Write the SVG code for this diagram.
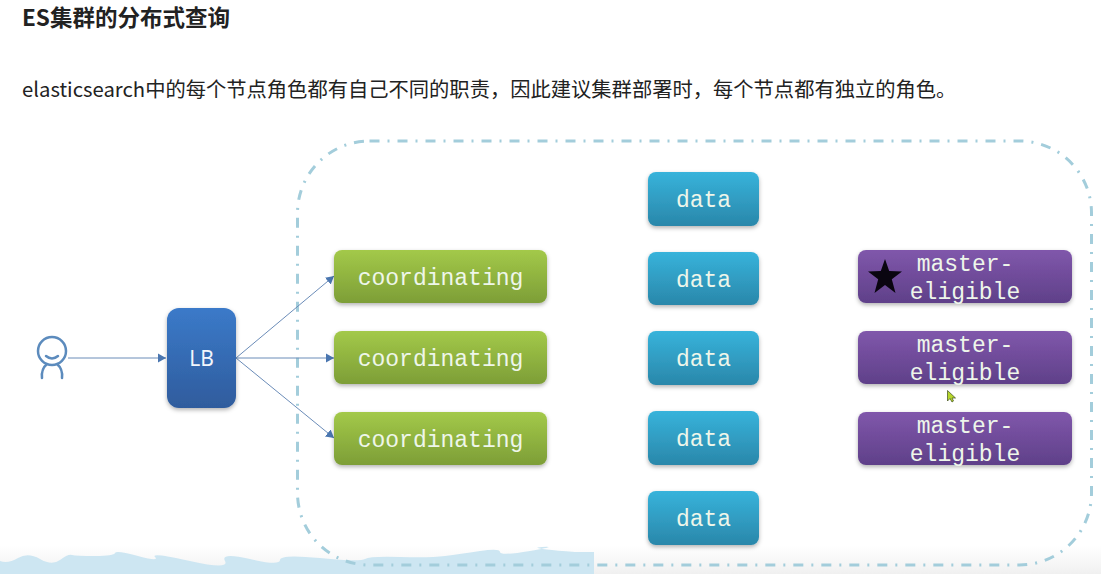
<svg xmlns="http://www.w3.org/2000/svg" width="1101" height="574" viewBox="0 0 1101 574">
<style>
.t{font-family:"Noto Sans CJK SC","Noto Sans",sans-serif;fill:#222}
.m{font-family:"Liberation Mono",monospace;font-size:23px;fill:#eef6ea;text-anchor:middle}
.c{stroke:#6b8cb8;stroke-width:1;fill:none;marker-end:url(#a)}
.n{filter:url(#s)}
</style>
<defs>
<marker id="a" markerUnits="userSpaceOnUse" markerWidth="10" markerHeight="10" refX="8" refY="5" orient="auto"><path d="M0 0.500L8 5L0 9.500z" fill="#4a76b0"/></marker>
<filter id="s" x="-10%" y="-15%" width="120%" height="140%"><feDropShadow dx="0" dy="2" stdDeviation="2" flood-color="#000" flood-opacity=".3"/></filter>
<linearGradient id="g" x1="0" y1="0" x2="0" y2="1"><stop offset="0" stop-color="#a3c949"/><stop offset="1" stop-color="#7d9e37"/></linearGradient>
<linearGradient id="b" x1="0" y1="0" x2="0" y2="1"><stop offset="0" stop-color="#3b7ac9"/><stop offset="1" stop-color="#2f5c9d"/></linearGradient>
<linearGradient id="d" x1="0" y1="0" x2="0" y2="1"><stop offset="0" stop-color="#37b3db"/><stop offset="1" stop-color="#2a87aa"/></linearGradient>
<linearGradient id="p" x1="0" y1="0" x2="0" y2="1"><stop offset="0" stop-color="#8057ab"/><stop offset="1" stop-color="#5f4089"/></linearGradient>
<linearGradient id="f" x1="0" y1="0" x2="0" y2="1"><stop offset="0" stop-color="#f2f2f2" stop-opacity="0"/><stop offset="1" stop-color="#f0f0f0"/></linearGradient>
</defs>
<rect width="1101" height="574" fill="#fff"/>
<rect y="545" width="1101" height="29" fill="url(#f)"/>
<path d="M0 561Q8 564 18 558T40 559T60 560T72 555T95 556T115 553T138 556T155 557T190 561T225 561T250 559T280 560T320 558T365 559T400 557T445 556T480 551T500 552T530 551T542 547T575 552L594 552V574H0Z" fill="#cde6f2"/>
<rect x="297.500" y="141" width="794" height="424" rx="72" ry="72" fill="none" stroke="#a3cddb" stroke-width="3" stroke-dasharray="10 8 2 8"/>
<text class="t" x="22" y="26" font-size="22.500" font-weight="700">ES集群的分布式查询</text>
<text class="t" x="22" y="97" font-size="20.300">elasticsearch中的每个节点角色都有自己不同的职责，因此建议集群部署时，每个节点都有独立的角色。</text>
<g id="connectors">
<line class="c" x1="68" y1="358" x2="166" y2="358"/>
<line class="c" x1="236" y1="358" x2="334" y2="276"/>
<line class="c" x1="236" y1="358" x2="334" y2="358"/>
<line class="c" x1="236" y1="358" x2="334" y2="438"/>
</g>
<g id="user" fill="none" stroke="#5c8bbd" stroke-width="2.500" stroke-linecap="round">
<circle cx="52" cy="351" r="14"/>
<path d="M46 356Q52 361 58 356M47 364Q41 369 42 378M57 364Q63 369 62 378"/>
</g>
<g id="lb"><rect class="n" x="167" y="308" width="69" height="100" rx="12" fill="url(#b)"/><text x="201.500" y="366" font-family="Noto Sans,sans-serif" font-size="21" fill="#f2f6fc" text-anchor="middle">LB</text></g>
<g id="coord1"><rect class="n" x="334" y="250" width="213" height="53" rx="8" fill="url(#g)"/><text class="m" x="440.500" y="285">coordinating</text></g>
<g id="coord2"><rect class="n" x="334" y="331" width="213" height="53" rx="8" fill="url(#g)"/><text class="m" x="440.500" y="366">coordinating</text></g>
<g id="coord3"><rect class="n" x="334" y="412" width="213" height="53" rx="8" fill="url(#g)"/><text class="m" x="440.500" y="447">coordinating</text></g>
<g id="data1"><rect class="n" x="648" y="172" width="111" height="54" rx="8" fill="url(#d)"/><text class="m" x="703.500" y="207">data</text></g>
<g id="data2"><rect class="n" x="648" y="252" width="111" height="53" rx="8" fill="url(#d)"/><text class="m" x="703.500" y="287">data</text></g>
<g id="data3"><rect class="n" x="648" y="331" width="111" height="54" rx="8" fill="url(#d)"/><text class="m" x="703.500" y="366">data</text></g>
<g id="data4"><rect class="n" x="648" y="411" width="111" height="54" rx="8" fill="url(#d)"/><text class="m" x="703.500" y="446">data</text></g>
<g id="data5"><rect class="n" x="648" y="491" width="111" height="54" rx="8" fill="url(#d)"/><text class="m" x="703.500" y="526">data</text></g>
<g id="master1"><rect class="n" x="858" y="250" width="214" height="53" rx="8" fill="url(#p)"/><text class="m" x="965" y="271">master-</text><text class="m" x="965" y="299">eligible</text>
<polygon points="885,259 889.200,271 902,271.400 891.800,279.200 895.500,293 885,285 874.500,293 878.200,279.200 868,271.400 880.800,271" fill="#0a0510"/></g>
<g id="master2"><rect class="n" x="858" y="331" width="214" height="53" rx="8" fill="url(#p)"/><text class="m" x="965" y="352">master-</text><text class="m" x="965" y="380">eligible</text></g>
<g id="master3"><rect class="n" x="858" y="412" width="214" height="53" rx="8" fill="url(#p)"/><text class="m" x="965" y="433">master-</text><text class="m" x="965" y="461">eligible</text></g>
<path id="cursor" d="M947.500 390.500V401L950 398.500L952 402L953.500 401L952 398H955.500Z" fill="#b5d62a" stroke="#3c4a20" stroke-width=".7"/>
</svg>
